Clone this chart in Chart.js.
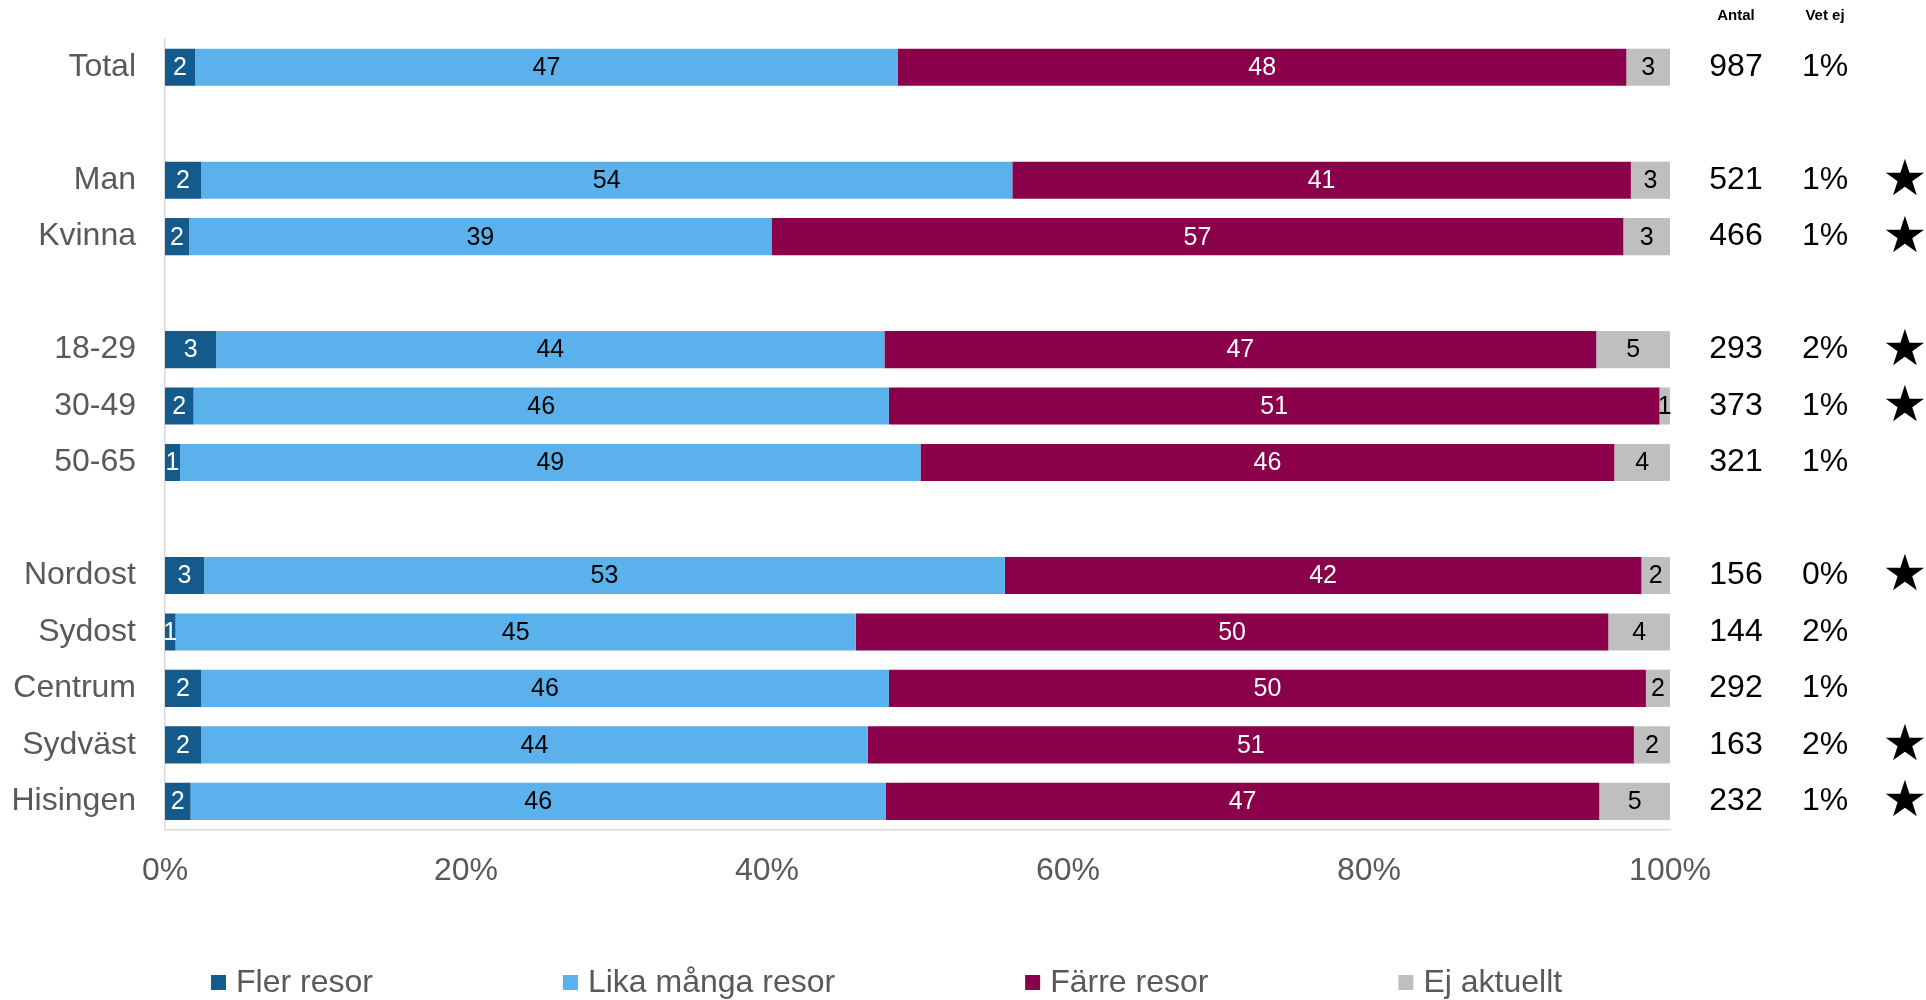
<!DOCTYPE html>
<html>
<head>
<meta charset="utf-8">
<script src="https://cdn.jsdelivr.net/npm/chart.js@4"></script>
<style>
  body { margin: 0; background: #fff; }
  #wrap { width: 1926px; height: 1000px; }
</style>
</head>
<body>
<div id="wrap"><canvas id="bar-Chart"></canvas></div>
<script>
// kategorier ('' = tom rad mellan grupperna)
var kategorier = ['Total', '', 'Man', 'Kvinna', '', '18-29', '30-49', '50-65', '', 'Nordost', 'Sydost', 'Centrum', 'Sydväst', 'Hisingen'];

var flerResor  = [2.0, null, 2.4, 1.6, null, 3.4, 1.9, 1.0, null, 2.6, 0.7, 2.4, 2.4, 1.7];
var likaManga  = [46.7, null, 53.9, 38.7, null, 44.4, 46.2, 49.2, null, 53.2, 45.2, 45.7, 44.3, 46.2];
var farreResor = [48.4, null, 41.1, 56.6, null, 47.3, 51.2, 46.1, null, 42.3, 50.0, 50.3, 50.9, 47.4];
var ejAktuellt = [2.9, null, 2.6, 3.1, null, 4.9, 0.7, 3.7, null, 1.9, 4.1, 1.6, 2.4, 4.7];

var antal = [987, null, 521, 466, null, 293, 373, 321, null, 156, 144, 292, 163, 232];
var vetEj = [1, null, 1, 1, null, 2, 1, 1, null, 0, 2, 1, 2, 1];
var stjarna = [false, false, true, true, false, true, true, false, false, true, false, false, true, true];

var xTicks = [0, 20, 40, 60, 80, 100];

var serier = [
    { label: 'Fler resor', data: flerResor, color: '#145A8C', text: '#ffffff' },
    { label: 'Lika många resor', data: likaManga, color: '#5AB1EC', text: '#000000' },
    { label: 'Färre resor', data: farreResor, color: '#8B004A', text: '#ffffff' },
    { label: 'Ej aktuellt', data: ejAktuellt, color: '#BFBFBF', text: '#000000' }
];

var font = 'Liberation Sans, Arial, sans-serif';

// etiketter i staplarna, kolumner till höger och förklaringen
var extraPlugin = {
    id: 'extra',
    afterDatasetsDraw: function (chart) {
        var ctx = chart.ctx;
        ctx.save();
        ctx.font = '25px ' + font;
        ctx.textAlign = 'center';
        ctx.textBaseline = 'middle';
        chart.data.datasets.forEach(function (ds, di) {
            var meta = chart.getDatasetMeta(di);
            meta.data.forEach(function (el, i) {
                var v = ds.data[i];
                if (v === null || v === undefined) return;
                var p = el.getCenterPoint();
                ctx.fillStyle = serier[di].text;
                ctx.fillText(Math.round(v), p.x, p.y + 1);
            });
        });
        ctx.restore();
    },
    afterDraw: function (chart) {
        var ctx = chart.ctx;
        var area = chart.chartArea;
        var y = chart.scales.y;
        var xA = area.right + 66, xV = area.right + 155, xS = area.right + 235;
        ctx.save();
        ctx.textAlign = 'center';
        ctx.textBaseline = 'middle';
        ctx.fillStyle = '#000';
        ctx.font = 'bold 15px ' + font;
        ctx.fillText('Antal', xA, 16);
        ctx.fillText('Vet ej', xV, 16);
        for (var i = 0; i < kategorier.length; i++) {
            var py = y.getPixelForValue(i);
            if (antal[i] !== null) {
                ctx.font = '32px ' + font;
                ctx.fillText(antal[i], xA, py);
                ctx.fillText(vetEj[i] + '%', xV, py);
            }
            if (stjarna[i]) {
                ctx.font = '50px DejaVu Sans';
                ctx.fillText('\u2605', xS, py + 2);
            }
        }
        // förklaring
        ctx.font = '32px ' + font;
        ctx.textAlign = 'left';
        var lx = 211, ly = 983;
        serier.forEach(function (s) {
            ctx.fillStyle = s.color;
            ctx.fillRect(lx, ly - 8, 15, 15);
            ctx.fillStyle = '#595959';
            ctx.fillText(s.label, lx + 25, ly);
            lx += 25 + ctx.measureText(s.label).width + 190;
        });
        ctx.restore();
    }
};

var ctx = document.getElementById('bar-Chart');
var chart = new Chart(ctx, {
    type: 'bar',
    data: {
        labels: kategorier,
        datasets: serier.map(function (s) {
            return {
                label: s.label,
                data: s.data,
                backgroundColor: s.color,
                borderWidth: 0,
                barPercentage: 0.657,
                categoryPercentage: 1
            };
        })
    },
    options: {
        indexAxis: 'y',
        responsive: true,
        maintainAspectRatio: false,
        animation: false,
        layout: { padding: { top: 39, right: 256, bottom: 88, left: 0 } },
        plugins: {
            legend: { display: false },
            tooltip: { enabled: false }
        },
        scales: {
            x: {
                stacked: true,
                min: 0,
                max: 100,
                afterBuildTicks: function (scale) {
                    scale.ticks = xTicks.map(function (v) { return { value: v }; });
                },
                grid: { display: false, drawTicks: false },
                border: { display: true, color: '#D9D9D9', width: 1.5 },
                ticks: {
                    padding: 22,
                    color: '#595959',
                    font: { family: font, size: 32 },
                    callback: function (v) { return v + '%'; }
                }
            },
            y: {
                stacked: true,
                afterFit: function (scale) {
                    scale.width = 165;
                    scale.paddingTop = 0;
                    scale.paddingBottom = 0;
                },
                grid: { display: false, drawTicks: false },
                border: { display: true, color: '#D9D9D9', width: 1.5 },
                ticks: {
                    padding: 29,
                    autoSkip: false,
                    color: '#595959',
                    font: { family: font, size: 32 }
                }
            }
        }
    },
    plugins: [extraPlugin]
});
</script>
</body>
</html>
